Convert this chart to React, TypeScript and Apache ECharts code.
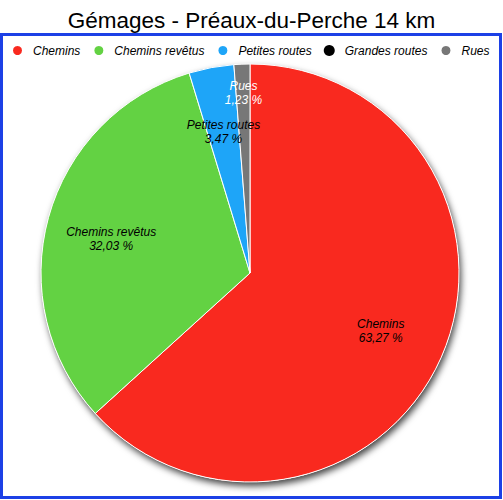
import React, { useEffect, useRef } from "react";
import * as echarts from "echarts";

const titleText = "Gémages - Préaux-du-Perche 14 km";
const categories = ["Chemins", "Chemins revêtus", "Petites routes", "Grandes routes", "Rues"];
const shares = [63.27, 32.03, 3.47, 0, 1.23];
const colors = ["#f9291f", "#63d243", "#1ea5f8", "#000000", "#777777"];
const labelColors = ["#000", "#000", "#000", "#000", "#fff"];

const FONT = "'Liberation Sans', Arial, Helvetica, sans-serif";

export default function App() {
  const ref = useRef<HTMLDivElement>(null);
  useEffect(() => {
    if (!ref.current) return;
    const chart = echarts.init(ref.current, undefined, { renderer: "svg" });
    const center = [250, 273];
    const R = 209;
    const fmt = (v: number) => v.toFixed(2).replace(".", ",") + " %";
    chart.setOption({
      animation: false,
      backgroundColor: "#fff",
      color: colors,
      title: {
        text: titleText,
        left: "center",
        top: 4,
        textStyle: { fontFamily: FONT, fontSize: 22.5, fontWeight: "normal", color: "#000" },
      },
      legend: {
        data: categories,
        left: 6,
        top: 39,
        icon: "circle",
        itemWidth: 21,
        itemHeight: 11,
        itemGap: 12,
        textStyle: { fontFamily: FONT, fontSize: 12, fontStyle: "italic", color: "#000" },
      },
      graphic: [
        {
          type: "rect",
          shape: { x: 1.5, y: 34.5, width: 499, height: 463 },
          style: { fill: "none", stroke: "#1c40e6", lineWidth: 3 },
          z: 100,
          silent: true,
        },
      ],
      series: [
        {
          type: "pie",
          silent: true,
          center,
          radius: R,
          z: 1,
          label: { show: false },
          labelLine: { show: false },
          itemStyle: {
            color: "#fff",
            shadowBlur: 7,
            shadowOffsetX: 2,
            shadowOffsetY: 4,
            shadowColor: "rgba(0,0,0,0.75)",
          },
          data: [{ name: "__bg", value: 1 }],
        },
        {
          type: "pie",
          silent: true,
          center,
          radius: R,
          startAngle: 90,
          clockwise: true,
          z: 2,
          avoidLabelOverlap: false,
          label: { show: false },
          labelLine: { show: false },
          emphasis: { disabled: true },
          itemStyle: { borderColor: "#fff", borderWidth: 1 },
          data: categories.map((name, i) => ({
            name,
            value: shares[i],
            itemStyle: { color: colors[i], borderWidth: shares[i] === 0 ? 0 : 1 },
          })),
        },
        {
          type: "pie",
          silent: true,
          center,
          radius: [71, R],
          startAngle: 90,
          clockwise: true,
          z: 3,
          avoidLabelOverlap: false,
          emphasis: { disabled: true },
          itemStyle: { color: "rgba(0,0,0,0)", borderWidth: 0 },
          labelLine: { show: false },
          label: {
            show: true,
            position: "inside",
            fontFamily: FONT,
            fontSize: 12,
            fontStyle: "italic",
            lineHeight: 14,
            align: "center",
            formatter: (p: any) => `${p.name}\n${fmt(p.value)}`,
          },
          data: categories.map((name, i) => ({
            name,
            value: shares[i],
            label: {
              show: shares[i] > 0,
              color: labelColors[i],
              offset: name === "Rues" ? [-1, -37] : name === "Chemins revêtus" ? [-1, 4] : [0, 0],
            },
          })),
        },
      ],
    });
    return () => chart.dispose();
  }, []);
  return (
    <div
      ref={ref}
      style={{ position: "fixed", left: 0, top: 0, width: 503, height: 500 }}
    />
  );
}
